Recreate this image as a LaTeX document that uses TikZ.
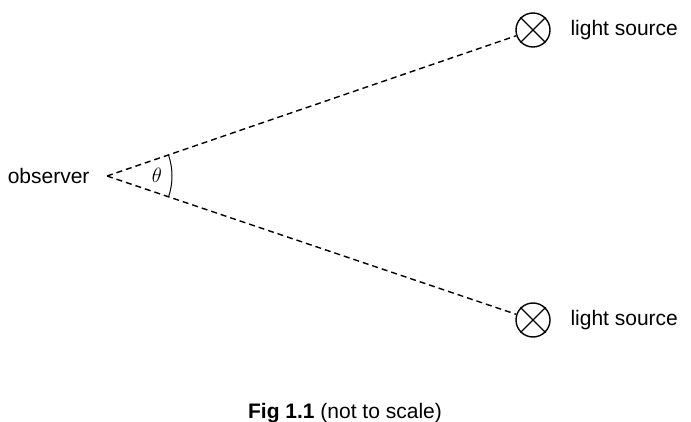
\documentclass[tikz,border=0pt]{standalone}
\usepackage{fontspec}
\setmainfont{Liberation Sans}
\begin{document}
\begin{tikzpicture}[x=1pt,y=-1pt,
  src/.style={circle,draw,line width=1.4pt,minimum size=34pt,inner sep=0pt},
  lbl/.style={font=\fontsize{21}{24}\selectfont},
  ray/.style={line width=1.4pt,dash pattern=on 6pt off 4pt}]
\useasboundingbox (0,0) rectangle (691,422);
\coordinate (o) at (107,176);
\node[src] (s1) at (533,30) {};
\node[src] (s2) at (533,320) {};
\foreach \s in {s1,s2}{
  \draw[line width=1.4pt] (\s.north west) -- (\s.south east) (\s.north east) -- (\s.south west);}
\draw[ray] (o) -- (s1);
\draw[ray] (o) -- (s2);
\node[lbl,anchor=east] (obs) at (93,176) {observer};
\node[lbl,anchor=west] (l1) at (567,30) {light source};
\node[lbl,anchor=west] (l2) at (567,320) {light source};
\node (th) at (157,175) {\fontsize{21}{24}\selectfont$\theta$};
\draw[line width=1pt] (o) ++(-18.9:65) arc[start angle=-18.9,end angle=18.9,radius=65];
\node[lbl] (cap) at (345,413) {\textbf{Fig 1.1} (not to scale)};
\end{tikzpicture}
\end{document}
